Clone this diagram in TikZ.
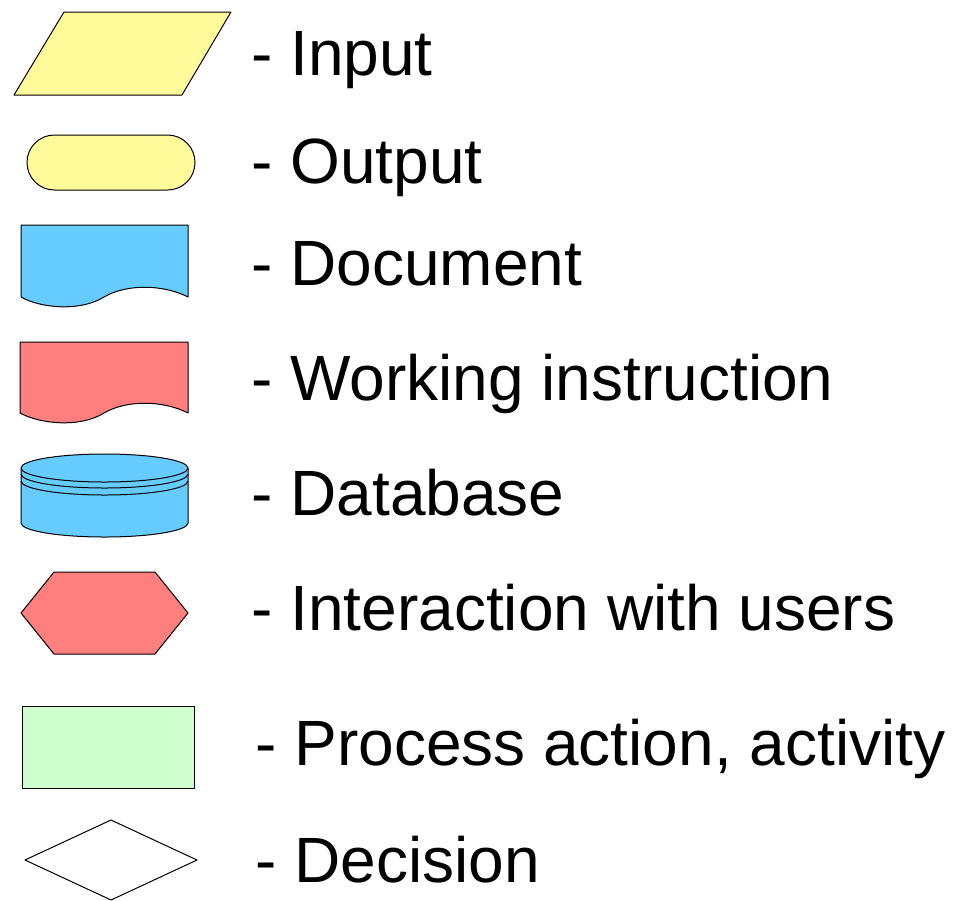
\documentclass[tikz,border=0pt]{standalone}
\usepackage{fontspec}
\setmainfont{Liberation Sans}
\usepackage{xcolor}
\usetikzlibrary{calc}

\definecolor{inyellow}{HTML}{FFFA9A}
\definecolor{docblue}{HTML}{66CCFF}
\definecolor{wired}{HTML}{FF7F7F}
\definecolor{procgreen}{HTML}{CCFFCC}

\tikzset{
  shp/.style={draw=black, line width=0.5pt, line join=round},
  lbl/.style={anchor=base west, inner sep=0pt, font=\fontsize{32}{38}\selectfont}
}

\begin{document}
\begin{tikzpicture}[x=0.5pt,y=-0.5pt]

        \useasboundingbox (0,0) rectangle (961,900);

        % Input
        \draw[shp, fill=inyellow] (64,12) -- (231,12) -- (182,95) -- (14,95) -- cycle;
        \node[lbl] (inp) at (251,75) {- Input};

        % Output
        \draw[shp, fill=inyellow, rounded corners=13.7pt] (27,135) rectangle (195,190);
        \node[lbl] (outp) at (251,183) {- Output};

        % Document
        \draw[shp, fill=docblue] (21,297) -- (21,225) -- (188,225) -- (188,297)
          .. controls (165,285) and (128,283) .. (104,297)
          .. controls (80,312) and (40,308) .. (21,297) -- cycle;
        \node[lbl] (doc) at (251,285) {- Document};

        % Working instruction
        \draw[shp, fill=wired] (20,413) -- (20,342) -- (188,342) -- (188,413)
          .. controls (165,401) and (128,399) .. (104,413)
          .. controls (80,428) and (40,424) .. (20,413) -- cycle;
        \node[lbl] (work) at (251,400) {- Working instruction};

        % Database
        \draw[shp, fill=docblue] (21,468) -- (21,523)
          arc[start angle=180, end angle=0, x radius=83.5, y radius=14] -- (188,468);
        \draw[shp, fill=docblue] (104.5,468) ellipse [x radius=83.5, y radius=14];
        \foreach \d in {474,481}
        {
          \draw[shp] (21,\d) arc[start angle=180, end angle=0, x radius=83.5, y radius=14];
        }
        \node[lbl] (db) at (251,515) {- Database};

        % Interaction with users
        \draw[shp, fill=wired] (21,613) -- (54,572) -- (155,572) -- (188,613)
          -- (155,654) -- (54,654) -- cycle;
        \node[lbl] (inter) at (251,630) {- Interaction with users};

        % Process action, activity
        \draw[shp, fill=procgreen] (22,706) rectangle (194,788);
        \node[lbl] (proc) at (255,765) {- Process action, activity};

        % Decision
        \draw[shp, fill=white] (25,860) -- (111,820) -- (197,860) -- (111,900) -- cycle;
        \node[lbl] (dec) at (255,882) {- Decision};

    \end{tikzpicture}
\end{document}
